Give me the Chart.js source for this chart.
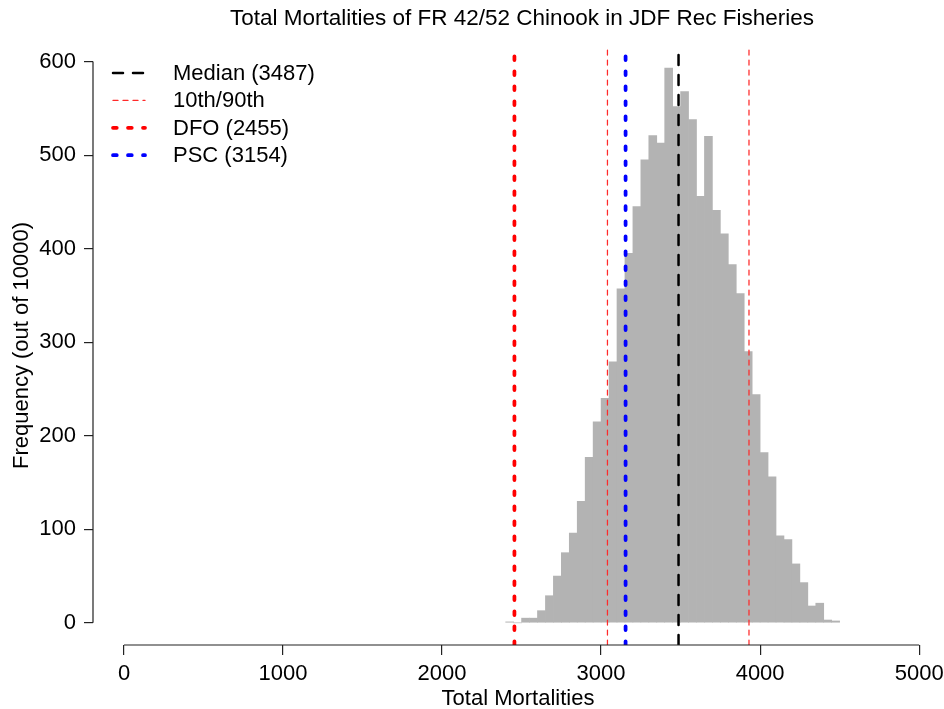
<!DOCTYPE html>
<html>
<head>
<meta charset="utf-8">
<script src="https://cdn.jsdelivr.net/npm/chart.js@4.4.1/dist/chart.umd.min.js"></script>
<style>
  html, body { margin: 0; padding: 0; background: #fff; overflow: hidden; }
  #wrap { width: 944px; height: 709px; position: relative; }
</style>
</head>
<body>
<div id="wrap"><canvas id="hist"></canvas></div>
<script>
// histogram bins (left edge) and counts out of 10000 draws
const BIN_WIDTH = 50;
const BIN_STARTS = [
  2400, 2450, 2500, 2550, 2600, 2650, 2700, 2750, 2800, 2850,
  2900, 2950, 3000, 3050, 3100, 3150, 3200, 3250, 3300, 3350,
  3400, 3450, 3500, 3550, 3600, 3650, 3700, 3750, 3800, 3850,
  3900, 3950, 4000, 4050, 4100, 4150, 4200, 4250, 4300, 4350,
  4400, 4450
];
const COUNTS = [
  1, 0, 5, 5, 13, 29, 50, 75, 96, 130,
  177, 215, 240, 279, 357, 395, 445, 495, 521, 513,
  593, 552, 568, 538, 456, 520, 441, 416, 383, 352,
  290, 244, 182, 156, 93, 89, 63, 43, 18, 21,
  3, 2
];

// reference lines
const MEDIAN = 3487;
const P10 = 3040;
const P90 = 3930;
const DFO = 2455;
const PSC = 3154;

const X_TICKS = [0, 1000, 2000, 3000, 4000, 5000];
const Y_TICKS = [0, 100, 200, 300, 400, 500, 600];

const TITLE = 'Total Mortalities of FR 42/52 Chinook in JDF Rec Fisheries';
const FONT = 'Liberation Sans, Arial, sans-serif';
const FONT_SIZE = 22;
const X_MIN = -195;
const X_MAX = 5150;
const Y_MIN = -23.7;
const Y_MAX = 616.7;

function vline(x, label, color, width, dash, showInLegend) {
  return {
    type: 'line',
    label: label,
    data: [{ x: x, y: Y_MIN }, { x: x, y: Y_MAX }],
    borderColor: color,
    borderWidth: width,
    borderDash: dash,
    borderCapStyle: 'round',
    pointRadius: 0,
    fill: false,
    order: 0,
    inLegend: showInLegend,
  };
}

// R-style axis lines: only from first to last tick
const axisLines = {
  id: 'axisLines',
  afterDraw(chart) {
    const { ctx, chartArea, scales } = chart;
    ctx.save();
    ctx.strokeStyle = '#222';
    ctx.lineWidth = 1.2;
    ctx.beginPath();
    const y0 = chartArea.bottom;
    ctx.moveTo(scales.x.getPixelForValue(X_TICKS[0]), y0);
    ctx.lineTo(scales.x.getPixelForValue(X_TICKS[X_TICKS.length - 1]), y0);
    const x0 = chartArea.left;
    ctx.moveTo(x0, scales.y.getPixelForValue(Y_TICKS[0]));
    ctx.lineTo(x0, scales.y.getPixelForValue(Y_TICKS[Y_TICKS.length - 1]));
    ctx.stroke();
    ctx.restore();
  },
};

// main title centred over the plot region, like R's title()
const plotTitle = {
  id: 'plotTitle',
  afterDraw(chart) {
    const { ctx, scales } = chart;
    const cx = (scales.x.getPixelForValue(X_MIN) + scales.x.getPixelForValue(5200)) / 2;
    ctx.save();
    ctx.font = '22.5px ' + FONT;
    ctx.fillStyle = '#000';
    ctx.textAlign = 'center';
    ctx.textBaseline = 'alphabetic';
    ctx.fillText(TITLE, cx, 25);
    ctx.restore();
  },
};

// legend in the top-left corner of the plot region, no box
const insetLegend = {
  id: 'insetLegend',
  afterDatasetsDraw(chart) {
    const { ctx, chartArea } = chart;
    const items = chart.data.datasets.filter((ds) => ds.inLegend);
    ctx.save();
    ctx.font = FONT_SIZE + 'px ' + FONT;
    ctx.textBaseline = 'middle';
    ctx.fillStyle = '#000';
    items.forEach((ds, i) => {
      const y = chartArea.top + 27 + i * 27.4;
      ctx.beginPath();
      ctx.strokeStyle = ds.borderColor;
      ctx.lineWidth = ds.borderWidth;
      ctx.setLineDash(ds.borderDash);
      ctx.lineCap = ds.borderCapStyle;
      ctx.moveTo(chartArea.left + 20, y);
      ctx.lineTo(chartArea.left + 52, y);
      ctx.stroke();
      ctx.setLineDash([]);
      ctx.fillText(ds.label, chartArea.left + 80, y + 1);
    });
    ctx.restore();
  },
};

const tickFont = { family: FONT, size: FONT_SIZE };

new Chart(document.getElementById('hist'), {
  data: {
    datasets: [
      {
        type: 'bar',
        label: 'Total Mortalities',
        data: BIN_STARTS.map((b, i) => ({ x: b + BIN_WIDTH / 2, y: COUNTS[i] })),
        backgroundColor: '#b3b3b3',
        borderWidth: 0,
        barPercentage: 1,
        categoryPercentage: 1,
        order: 1,
      },
      vline(MEDIAN, 'Median (3487)', '#000000', 2.5, [10, 10], true),
      vline(P10, '10th/90th', '#ff2a2a', 1.25, [5, 5], true),
      vline(P90, '10th/90th', '#ff2a2a', 1.25, [5, 5], false),
      vline(DFO, 'DFO (2455)', '#ff0000', 3.75, [3.75, 11.25], true),
      vline(PSC, 'PSC (3154)', '#0000ff', 3.75, [3.75, 11.25], true),
    ],
  },
  options: {
    responsive: true,
    maintainAspectRatio: false,
    animation: false,
    devicePixelRatio: 1,
    layout: { padding: { left: 0, right: 1, top: 46, bottom: 0 } },
    plugins: {
      legend: { display: false },
      tooltip: { enabled: false },
      title: { display: false },
    },
    scales: {
      x: {
        type: 'linear',
        min: X_MIN,
        max: X_MAX,
        offset: false,
        afterBuildTicks: (scale) => { scale.ticks = X_TICKS.map((v) => ({ value: v })); },
        afterFit: (scale) => {
          scale.height = 64;
          scale.paddingLeft = 0;
          scale.paddingRight = 0;
        },
        grid: { offset: false, drawOnChartArea: false, drawTicks: true, tickLength: 10, color: '#222', lineWidth: 1.2 },
        border: { display: false },
        ticks: { color: '#000', font: tickFont, padding: 5.5, maxRotation: 0, callback: (v) => String(v) },
        title: {
          display: true,
          text: 'Total Mortalities',
          color: '#000',
          font: tickFont,
          padding: { top: 0, bottom: -3 },
        },
      },
      y: {
        type: 'linear',
        min: Y_MIN,
        max: Y_MAX,
        afterBuildTicks: (scale) => { scale.ticks = Y_TICKS.map((v) => ({ value: v })); },
        afterFit: (scale) => {
          scale.width = 93;
          scale.paddingTop = 0;
          scale.paddingBottom = 0;
        },
        grid: { drawOnChartArea: false, drawTicks: true, tickLength: 9, color: '#222', lineWidth: 1.2 },
        border: { display: false },
        ticks: { color: '#000', font: tickFont, padding: 8, callback: (v) => String(v) },
        title: {
          display: true,
          text: 'Frequency (out of 10000)',
          color: '#000',
          font: tickFont,
          padding: { top: 9, bottom: 0 },
        },
      },
    },
  },
  plugins: [axisLines, plotTitle, insetLegend],
});
</script>
</body>
</html>
